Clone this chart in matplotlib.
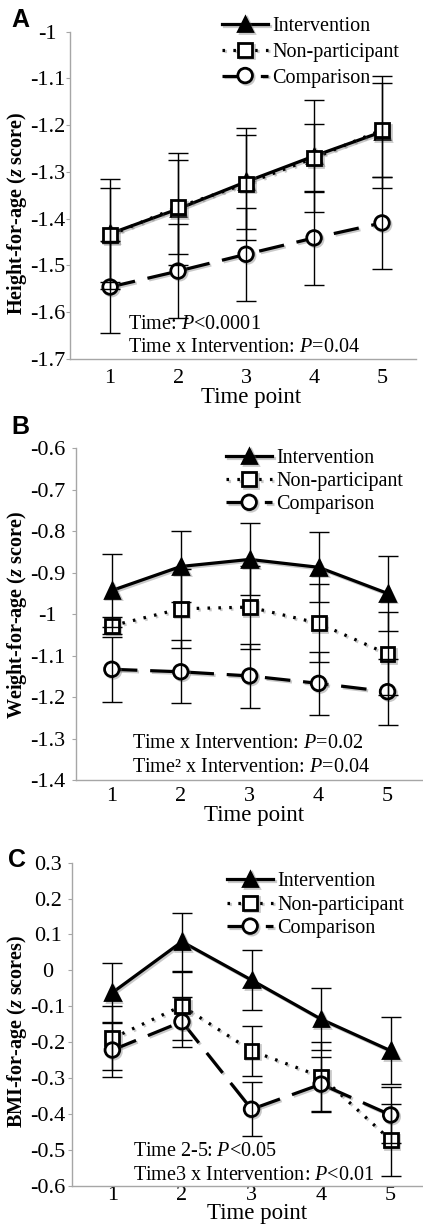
import numpy as np
import matplotlib
matplotlib.use("Agg")
import matplotlib.pyplot as plt
import matplotlib.patheffects as pe

plt.rcParams["font.family"] = ["Liberation Serif", "DejaVu Serif"]
plt.rcParams["mathtext.fontset"] = "custom"
plt.rcParams["mathtext.rm"] = "Liberation Serif"
plt.rcParams["mathtext.it"] = "Liberation Serif:italic"
plt.rcParams["mathtext.bf"] = "Liberation Serif:bold"
plt.rcParams["mathtext.bfit"] = "Liberation Serif:italic:bold"
plt.rcParams["axes.unicode_minus"] = False

# ── data ─────────────────────────────────────────────────────────────────────
time_pts = [1, 2, 3, 4, 5]
series = ["Intervention", "Non-participant", "Comparison"]

# A: height-for-age
hfa_int     = [-1.432, -1.379, -1.321, -1.266, -1.214]
hfa_int_err = [0.118, 0.12, 0.10, 0.12, 0.12]
hfa_non     = [-1.435, -1.375, -1.325, -1.270, -1.210]
hfa_non_err = [0.10, 0.10, 0.12, 0.073, 0.10]
hfa_cmp     = [-1.546, -1.512, -1.476, -1.441, -1.409]
hfa_cmp_err = [0.098, 0.10, 0.10, 0.10, 0.098]

# B: weight-for-age
wfa_int     = [-0.943, -0.885, -0.868, -0.887, -0.950]
wfa_int_err = [0.087, 0.086, 0.087, 0.084, 0.09]
wfa_non     = [-1.028, -0.987, -0.983, -1.022, -1.096]
wfa_non_err = [0.02, 0.095, 0.10, 0.094, 0.10]
wfa_cmp     = [-1.133, -1.139, -1.149, -1.167, -1.187]
wfa_cmp_err = [0.078, 0.076, 0.078, 0.076, 0.08]

# C: BMI-for-age
bfa_int     = [-0.062, 0.080, -0.027, -0.136, -0.224]
bfa_int_err = [0.083, 0.081, 0.084, 0.086, 0.093]
bfa_non     = [-0.189, -0.099, -0.224, -0.296, -0.473]
bfa_non_err = [0.09, 0.095, 0.07, 0.097, 0.10]
bfa_cmp     = [-0.222, -0.143, -0.387, -0.317, -0.403]
bfa_cmp_err = [0.075, 0.07, 0.075, 0.077, 0.077]

panels = [
    dict(letter="A", ylabel=r"Height-for-age ($\mathbfit{z}$ score)",
         ylim=(-1.7, -1.0), yticks=np.arange(-1.7, -0.95, 0.1),
         xlim=(0.41, 5.5),
         data=[(hfa_int, hfa_int_err), (hfa_non, hfa_non_err), (hfa_cmp, hfa_cmp_err)],
         notes=["Time: $P$<0.0001", "Time x Intervention: $P$=0.04"]),
    dict(letter="B", ylabel=r"Weight-for-age ($\mathbfit{z}$ score)",
         ylim=(-1.4, -0.6), yticks=np.arange(-1.4, -0.55, 0.1),
         xlim=(0.48, 5.5),
         data=[(wfa_int, wfa_int_err), (wfa_non, wfa_non_err), (wfa_cmp, wfa_cmp_err)],
         notes=["Time x Intervention: $P$=0.02", "Time² x Intervention: $P$=0.04"]),
    dict(letter="C", ylabel=r"BMI-for-age ($\mathbfit{z}$ scores)",
         ylim=(-0.6, 0.3), yticks=np.arange(-0.6, 0.35, 0.1),
         xlim=(0.42, 5.45),
         data=[(bfa_int, bfa_int_err), (bfa_non, bfa_non_err), (bfa_cmp, bfa_cmp_err)],
         notes=["Time 2-5: $P$<0.05", "Time3 x Intervention: $P$<0.01"]),
]

# ── layout, in pixels of a 423x1224 canvas ───────────────────────────────────
W, H = 423, 1224
def fx(px): return px / W
def fy(py): return 1 - py / H
PT = 72 / 100   # points per pixel at dpi 100

# (left, right, top, bottom) of each plot area
boxes = [(70, 416, 31.7, 359), (76, 422, 448.3, 780), (72, 422, 862.7, 1185.7)]
letter_xy = [(20, 20), (20, 427), (17, 860)]
ylabel_xy = [(17, 213), (17, 615), (17, 1031)]
xlabel_xy = [(251, 398), (254, 816), (257, 1214)]
legend_xy = [(222, 17), (226, 449), (227, 872)]
legend_gap = [0.33, 0.2, 0.22]
notes_xy = [(128, 325, 348), (132, 743, 767), (133, 1152, 1176)]
xtick_pad = [7, 5, 0]
ytick_center = 49   # y tick labels are centred on this x

styles = [
    dict(ls="-", marker="^", mfc="black", ms=10.5),
    dict(ls=(0, (0.8, 2.6)), marker="s", mfc="white", ms=10),
    dict(ls=(0, (8, 4)), marker="o", mfc="white", ms=10.5),
]
shadow = [pe.SimpleLineShadow(offset=(1.2, -1.2), shadow_color="0.4", alpha=0.35),
          pe.Normal()]

def fmt_tick(v, _):
    if abs(v) < 1e-9:
        return "0"
    return f"{v:.1f}".rstrip("0").rstrip(".")

fig = plt.figure(figsize=(W / 100, H / 100), dpi=100)

for i, p in enumerate(panels):
    l, r, t, b = boxes[i]
    ax = fig.add_axes([fx(l), fy(b), fx(r) - fx(l), fy(t) - fy(b)])
    handles = []
    for j, ((vals, errs), st) in enumerate(zip(p["data"], styles)):
        ln, = ax.plot(time_pts, vals, color="black", lw=2.3, ls=st["ls"],
                      marker=st["marker"], ms=st["ms"], mfc=st["mfc"],
                      mec="black", mew=2.0, zorder=3 + j * 0.1,
                      path_effects=shadow, label=series[j])
        ax.errorbar(time_pts, vals, yerr=errs, fmt="none", ecolor="black",
                    elinewidth=1.0, capsize=7.5, capthick=1.0, zorder=5)
        handles.append(ln)

    ax.set_xlim(*p["xlim"])
    ax.set_ylim(*p["ylim"])
    ax.set_yticks(p["yticks"])
    ax.yaxis.set_major_formatter(plt.FuncFormatter(fmt_tick))
    ax.set_xticks(time_pts)
    ax.tick_params(axis="x", length=0, pad=xtick_pad[i], labelsize=16)
    ax.tick_params(axis="y", direction="out", length=3, width=0.8,
                   color="#a6a6a6", pad=(l - ytick_center - 3) * PT, labelsize=16)
    for tk in ax.yaxis.get_major_ticks():
        tk.label1.set_horizontalalignment("center")
    for s in ("top", "right"):
        ax.spines[s].set_visible(False)
    for s in ("left", "bottom"):
        ax.spines[s].set_color("#a6a6a6")
        ax.spines[s].set_linewidth(1.0)

    lx, ly = legend_xy[i]
    ax.legend(handles=handles, loc="upper left",
              bbox_to_anchor=(fx(lx), fy(ly)), bbox_transform=fig.transFigure,
              frameon=False, fontsize=14.5, borderaxespad=0, borderpad=0,
              handlelength=2.3, handletextpad=0.2, labelspacing=legend_gap[i])

    nx, ny1, ny2 = notes_xy[i]
    fig.text(fx(nx), fy(ny1), p["notes"][0], fontsize=14.5, va="center", ha="left")
    fig.text(fx(nx), fy(ny2), p["notes"][1], fontsize=14.5, va="center", ha="left")

    fig.text(fx(letter_xy[i][0]), fy(letter_xy[i][1]), p["letter"],
             family="Liberation Sans", weight="bold", fontsize=18,
             ha="center", va="center")
    fig.text(fx(ylabel_xy[i][0]), fy(ylabel_xy[i][1]), p["ylabel"],
             weight="bold", fontsize=14.5, rotation=90, ha="center", va="center")
    fig.text(fx(xlabel_xy[i][0]), fy(xlabel_xy[i][1]), "Time point",
             fontsize=16.5, ha="center", va="center")

fig.savefig("out.png", dpi=100)
